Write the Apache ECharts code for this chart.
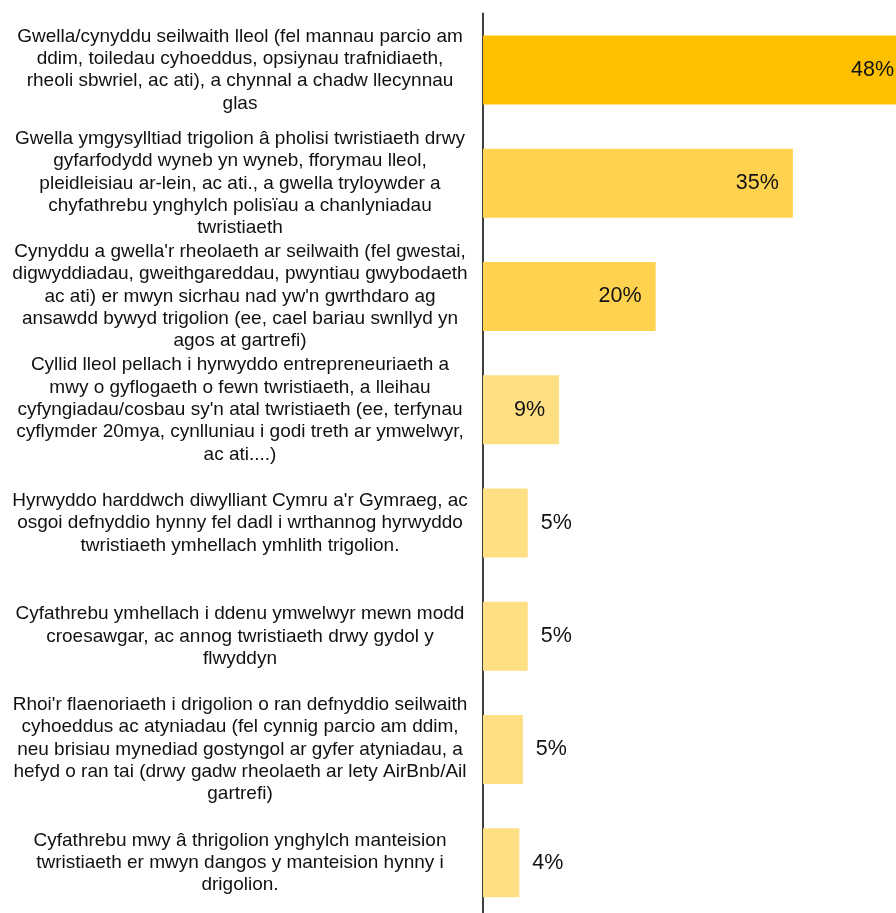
<!DOCTYPE html>
<html>
<head>
<meta charset="utf-8">
<script src="https://cdn.jsdelivr.net/npm/echarts@6/dist/echarts.min.js"></script>
<style>
  html, body { margin: 0; padding: 0; background: #fff; }
  #chart { width: 896px; height: 913px; }
</style>
</head>
<body>
<div id="chart"></div>
<script>
const categories = [
  "Gwella/cynyddu seilwaith lleol (fel mannau parcio am\nddim, toiledau cyhoeddus, opsiynau trafnidiaeth,\nrheoli sbwriel, ac ati), a chynnal a chadw llecynnau\nglas",
  "Gwella ymgysylltiad trigolion â pholisi twristiaeth drwy\ngyfarfodydd wyneb yn wyneb, fforymau lleol,\npleidleisiau ar-lein, ac ati., a gwella tryloywder a\nchyfathrebu ynghylch polisïau a chanlyniadau\ntwristiaeth",
  "Cynyddu a gwella'r rheolaeth ar seilwaith (fel gwestai,\ndigwyddiadau, gweithgareddau, pwyntiau gwybodaeth\nac ati) er mwyn sicrhau nad yw'n gwrthdaro ag\nansawdd bywyd trigolion (ee, cael bariau swnllyd yn\nagos at gartrefi)",
  "Cyllid lleol pellach i hyrwyddo entrepreneuriaeth a\nmwy o gyflogaeth o fewn twristiaeth, a lleihau\ncyfyngiadau/cosbau sy'n atal twristiaeth (ee, terfynau\ncyflymder 20mya, cynlluniau i godi treth ar ymwelwyr,\nac ati....)",
  "Hyrwyddo harddwch diwylliant Cymru a'r Gymraeg, ac\nosgoi defnyddio hynny fel dadl i wrthannog hyrwyddo\ntwristiaeth ymhellach ymhlith trigolion.",
  "Cyfathrebu ymhellach i ddenu ymwelwyr mewn modd\ncroesawgar, ac annog twristiaeth drwy gydol y\nflwyddyn",
  "Rhoi'r flaenoriaeth i drigolion o ran defnyddio seilwaith\ncyhoeddus ac atyniadau (fel cynnig parcio am ddim,\nneu brisiau mynediad gostyngol ar gyfer atyniadau, a\nhefyd o ran tai (drwy gadw rheolaeth ar lety AirBnb/Ail\ngartrefi)",
  "Cyfathrebu mwy â thrigolion ynghylch manteision\ntwristiaeth er mwyn dangos y manteision hynny i\ndrigolion."
];
// percentage of respondents (bar lengths; labels are rounded)
const values = [48, 35, 19.5, 8.6, 5.05, 5.05, 4.5, 4.1];

let chart = echarts.init(document.getElementById("chart"));
let barColor = (v) => {
  if (v >= 40) return "#FFC000";
  if (v >= 15) return "#FFD34F";
  return "#FFDF84";
};
let option = {
  animation: false,
  grid: {
    left: 483,
    top: 13.4,
    width: 425,
    height: 906,
    outerBoundsMode: "none",
  },
  xAxis: {
    type: "value",
    min: 0,
    max: 48,
    show: false,
  },
  yAxis: {
    type: "category",
    inverse: true,
    data: categories,
    axisLine: {
      show: true,
      lineStyle: { color: "#404040", width: 2 },
    },
    axisTick: { show: false },
    axisLabel: {
      interval: 0,
      align: "center",
      margin: 243,
      fontFamily: "Liberation Sans",
      fontSize: 19,
      lineHeight: 22.3,
      color: "#111",
    },
  },
  series: [
    {
      type: "bar",
      barWidth: 69,
      data: values.map((v) => ({
        value: v,
        itemStyle: { color: barColor(v) },
        label: v >= 8
          ? { position: "insideRight", distance: 14 }
          : { position: "right", distance: 13 },
      })),
      label: {
        show: true,
        fontFamily: "Liberation Sans",
        fontSize: 21.5,
        color: "#111",
        formatter: (p) => Math.round(p.value) + "%",
      },
    },
  ],
};
chart.setOption(option);
</script>
</body>
</html>
